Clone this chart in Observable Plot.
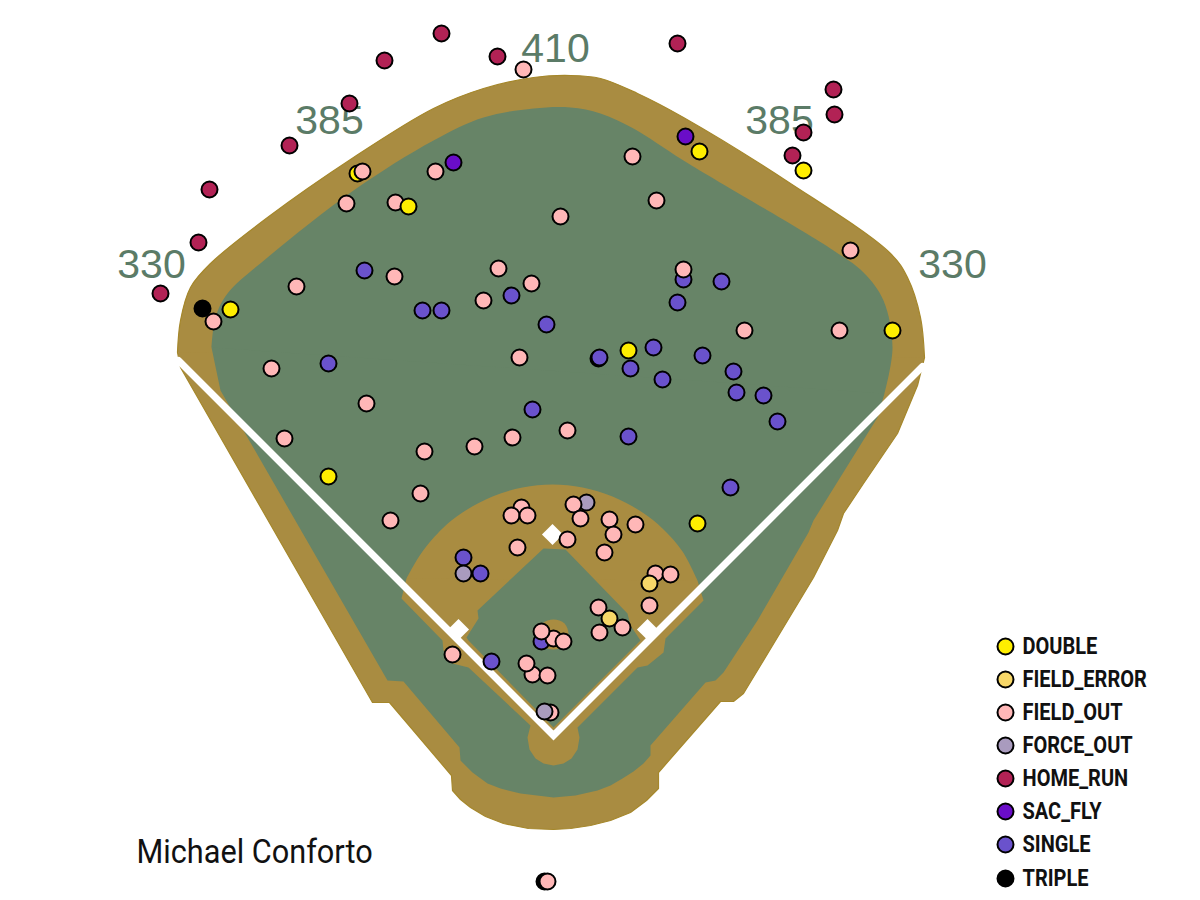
<!DOCTYPE html>
<html>
<head>
<meta charset="utf-8">
<script src="https://cdn.jsdelivr.net/npm/d3@7"></script>
<script src="https://cdn.jsdelivr.net/npm/@observablehq/plot@0.6"></script>
<style>
html,body{margin:0;padding:0;background:#fff}
#chart{width:1200px;height:900px}
svg{display:block}
</style>
</head>
<body>
<div id="chart"></div>
<script>
const batter = "Michael Conforto";
const events = ["DOUBLE","FIELD_ERROR","FIELD_OUT","FORCE_OUT","HOME_RUN","SAC_FLY","SINGLE","TRIPLE"];
const eventColors = ["#FFEE00","#F7D768","#FFB7B7","#A99BBE","#B22255","#6A0DC8","#6A52CC","#000000"];
const legendY = [646,679,712,745,778,811,844,878];

const tripleHits = [[202,308],[598,358],[544,881]];
const singleHits = [[364,270],[422,310],[441,310],[511,295],[546,324],[328,363],[532,409],[683,279],[721,281],[677,302],[599,357],[653,347],[630,368],[662,379],[702,355],[733,371],[736,392],[763,395],[777,421],[628,436],[730,487],[463,557],[480,573],[491,661],[541,641]];
const homeRunHits = [[441,33],[384,60],[497,56],[677,43],[349,103],[289,145],[209,189],[198,242],[160,293],[833,89],[834,114],[803,132],[792,155]];
const sacFlyHits = [[453,162],[685,136]];
const doubleEarly = [[357,173]];
const forceOutEarly = [[586,502]];
const fieldOutHits = [[523,69],[362,171],[435,171],[346,203],[395,202],[560,216],[498,268],[394,276],[296,286],[531,283],[483,300],[213,321],[519,357],[271,368],[366,403],[284,438],[512,437],[474,446],[424,451],[567,430],[420,493],[390,520],[632,156],[656,200],[683,269],[850,250],[744,330],[839,330],[521,507],[511,515],[527,515],[517,547],[573,504],[580,518],[609,519],[635,524],[613,534],[567,539],[604,552],[655,573],[670,574],[649,605],[598,607],[622,627],[599,632],[553,638],[541,631],[563,641],[452,654],[532,674],[526,663],[547,675],[550,712],[547,881]];
const fieldErrorHits = [[649,583],[609,618]];
const forceOutHits = [[463,573],[544,711]];
const doubleHits = [[230,309],[408,206],[699,151],[803,170],[892,330],[628,350],[328,476],[697,523]];

const distanceLabels = ["330","385","410","385","330"];
const distanceX = [151,329,555,779,952];
const distanceY = [264,120,48,120,264];

// Field outlines in the chart's own coordinates
const trackArc = [[177,352],[180,320],[190,287],[210,263],[267,217],[353,157],[433,108],[483,88],[533,77],[570,75],[600,78],[637,93],[683,117],[790,183],[890,253],[907,277],[920,317],[924,357]];
const trackLower = [[924,357],[917,385],[897,433],[863,483],[843,513],[837,530],[813,577],[763,660],[743,693],[733,701],[720,701],[658,772],[658,788],[646,800],[630,812],[610,820],[590,825],[570,828],[553,829],[528,828],[503,823],[485,816],[470,807],[460,799],[452,790],[451,775],[389,702],[372,702],[180,367],[177,352]];
const trackInside = [550, 200];
const grassArc = [[211,347],[215,317],[227,293],[267,257],[353,190],[433,140],[483,117],[533,108],[570,107],[600,113],[633,128],[683,160],[833,250],[863,272],[883,300],[892,347],[884,393]];
const grassLower = [[884,393],[877,417],[813,520],[808,532],[757,620],[723,672],[715,680],[705,682],[650,745],[650,755],[643,763],[633,771],[622,778],[610,785],[597,790],[575,795],[553,797],[520,793],[500,788],[487,783],[472,772],[460,760],[459,747],[403,681],[387,680],[247,437],[220,390],[211,347]];
const grassInside = [550, 250];
const infieldArc = [[406,578],[412,567],[422,551],[442,528],[462,512],[492,496],[522,487],[552,484],[582,487],[612,496],[642,512],[662,528],[682,551],[697,580]];
const infieldLower = [[697,580],[703,600],[665,638],[663,652],[647,665],[637,667],[577,727],[579,737],[577,749],[571,758],[563,763],[553,765],[543,763],[535,758],[529,749],[527,737],[530,725],[468,667],[452,663],[443,650],[442,640],[401,598],[406,578],[552,520]];
const infieldGrass = [[543,548],[565,549],[627,613],[630,625],[640,640],[553,727],[468,640],[466,637],[478,618],[477,610]];
const mound = [[553,619],[564,623],[568,634],[564,645],[553,649],[542,645],[538,634],[542,623]];
const foulLine = [[178,360],[553,735],[922,366]];
const bases = [[552,534],[647,629],[458,629]];

const px = d => d[0], py = d => d[1];
const DIRT = "#A98C41", TURF = "#678467", EDGE = "#A5872B";
const poly = (pts, fill, curve = "linear-closed") => Plot.line(pts, {x: px, y: py, fill, stroke: "none", curve});
const hits = (pts, event) => Plot.dot(pts, {x: px, y: py, r: 8, fill: () => event, stroke: "#000", strokeWidth: 2});

const chart = Plot.plot({
  width: 1200, height: 900,
  margin: 0,
  x: {domain: [0, 1200], axis: null},
  y: {domain: [900, 0], axis: null},
  color: {domain: events, range: eventColors},
  style: {background: "#fff", overflow: "visible"},
  marks: [
    poly([...trackLower, trackInside], DIRT),
    Plot.line(trackLower, {x: px, y: py, stroke: EDGE, strokeWidth: 1.2}),
    Plot.line(trackArc, {x: px, y: py, fill: DIRT, stroke: EDGE, strokeWidth: 1.2, curve: "catmull-rom"}),
    poly([...grassLower, grassInside], TURF),
    poly(grassArc, TURF, "catmull-rom"),
    poly(infieldLower, DIRT),
    poly(infieldArc, DIRT, "catmull-rom"),
    poly(infieldGrass, TURF),
    poly(mound, DIRT, "catmull-rom-closed"),
    Plot.line(foulLine, {x: px, y: py, stroke: "#fff", strokeWidth: 7, strokeLinejoin: "miter", strokeMiterlimit: 4}),
    Plot.dot(bases, {x: px, y: py, symbol: "diamond2", r: 9.5, fill: "#fff", stroke: "none"}),
    Plot.text(distanceLabels, {x: (d, i) => distanceX[i], y: (d, i) => distanceY[i], text: d => d, fontSize: 41, fontFamily: "Liberation Sans", fill: "#5B7B67", textAnchor: "middle"}),
    hits(tripleHits, "TRIPLE"),
    hits(doubleEarly, "DOUBLE"),
    hits(forceOutEarly, "FORCE_OUT"),
    hits(singleHits, "SINGLE"),
    hits(homeRunHits, "HOME_RUN"),
    hits(sacFlyHits, "SAC_FLY"),
    hits(fieldOutHits, "FIELD_OUT"),
    hits(fieldErrorHits, "FIELD_ERROR"),
    hits(forceOutHits, "FORCE_OUT"),
    hits(doubleHits, "DOUBLE"),
    Plot.dot(events, {x: () => 1005, y: (d, i) => legendY[i], r: 8, fill: d => d, stroke: "#000", strokeWidth: 2}),
    Plot.text(events, {x: () => 1022, y: (d, i) => legendY[i], text: d => d, textAnchor: "start", fontSize: 23, fontWeight: 700, fontFamily: "Roboto", fill: "#111", className: "legend-label"}),
    Plot.text([batter], {x: () => 136, y: () => 852, text: d => d, textAnchor: "start", fontSize: 33, fontFamily: "Roboto", fill: "#111", className: "batter-label"})
  ]
});
document.getElementById("chart").appendChild(chart);

// Narrow the Roboto text to match the condensed face of the reference
function condense(selector, factor) {
  chart.querySelectorAll(selector + " text").forEach(t => {
    t.setAttribute("textLength", t.getComputedTextLength() * factor);
    t.setAttribute("lengthAdjust", "spacingAndGlyphs");
  });
}
condense(".legend-label", 0.87);
condense(".batter-label", 0.93);
</script>
</body>
</html>
